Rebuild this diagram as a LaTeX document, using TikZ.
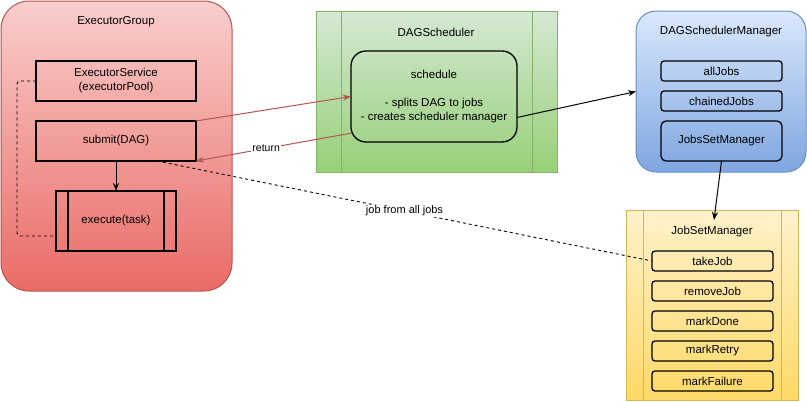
\documentclass[tikz,border=0pt]{standalone}
\usepackage{fontspec}
\setmainfont{Liberation Sans}
\usetikzlibrary{arrows.meta,calc}
\definecolor{redT}{HTML}{F8CECC}
\definecolor{redB}{HTML}{EA6B66}
\definecolor{redS}{HTML}{B85450}
\definecolor{grnT}{HTML}{D5E8D4}
\definecolor{grnB}{HTML}{97D077}
\definecolor{grnS}{HTML}{82B366}
\definecolor{bluT}{HTML}{DAE8FC}
\definecolor{bluB}{HTML}{7EA6E0}
\definecolor{bluS}{HTML}{6C8EBF}
\definecolor{yelT}{HTML}{FFF2CC}
\definecolor{yelB}{HTML}{FFD966}
\definecolor{yelS}{HTML}{D6B656}
\tikzset{
  every node/.style={font=\fontsize{11.5}{14}\selectfont, inner sep=0pt, outer sep=0pt},
  container/.style={draw, line width=1pt},
  innerbox/.style={draw=black, line width=1.3pt, align=center},
  item/.style={innerbox, rounded corners=3pt, minimum width=121pt, minimum height=20pt},
  arr/.style={-{Stealth[length=8pt,width=6pt]}, line width=1pt},
  redarr/.style={arr, draw=redS},
  lbl/.style={fill=white, inner sep=1pt}
}
\begin{document}
\begin{tikzpicture}[x=1pt,y=-1pt]
\useasboundingbox (0,0) rectangle (807,402);
% ExecutorGroup
\node[container, draw=redS, top color=redT, bottom color=redB, rounded corners=28pt,
  minimum width=231pt, minimum height=290pt] (EG) at (116.5,146) {};
\node (EGt) at (116,22) {ExecutorGroup};
\node[innerbox, minimum width=160pt, minimum height=40pt] (ES) at (116,81)
  {ExecutorService\\(executorPool)};
\node[innerbox, minimum width=160pt, minimum height=40pt] (SUB) at (116,141) {submit(DAG)};
\node[innerbox, minimum width=120pt, minimum height=60pt] (EX) at (116,221) {execute(task)};
\draw[line width=1.3pt] ($(EX.north west)+(12,0)$) -- ($(EX.south west)+(12,0)$);
\draw[line width=1.3pt] ($(EX.north east)+(-12,0)$) -- ($(EX.south east)+(-12,0)$);
% DAGScheduler
\node[container, draw=grnS, top color=grnT, bottom color=grnB,
  minimum width=241pt, minimum height=161pt] (DS) at (436.5,91.5) {};
\draw[grnS, line width=1pt] ($(DS.north west)+(25,0)$) -- ($(DS.south west)+(25,0)$);
\draw[grnS, line width=1pt] ($(DS.north east)+(-25,0)$) -- ($(DS.south east)+(-25,0)$);
\node (DSt) at (436,32) {DAGScheduler};
\node[innerbox, rounded corners=15pt, minimum width=166pt, minimum height=91pt] (SCH) at (434,96.5)
  {schedule\\[14pt]- splits DAG to jobs\\- creates scheduler manager};
% DAGSchedulerManager
\node[container, draw=bluS, top color=bluT, bottom color=bluB, rounded corners=20pt,
  minimum width=170pt, minimum height=161pt] (DSM) at (721,91.5) {};
\node (DSMt) at (721,32) {DAGSchedulerManager};
\node[item] (AJ) at (721.5,71) {allJobs};
\node[item] (CJ) at (721.5,101) {chainedJobs};
\node[innerbox, rounded corners=5pt, minimum width=121pt, minimum height=40pt] (JSM) at (721.5,141) {JobsSetManager};
% JobSetManager
\node[container, draw=yelS, top color=yelT, bottom color=yelB,
  minimum width=172pt, minimum height=190pt] (JBM) at (712,305) {};
\draw[yelS, line width=1pt] ($(JBM.north west)+(17,0)$) -- ($(JBM.south west)+(17,0)$);
\draw[yelS, line width=1pt] ($(JBM.north east)+(-17,0)$) -- ($(JBM.south east)+(-17,0)$);
\node (JBMt) at (712,232) {JobSetManager};
\node[item] (TJ) at (712.5,261) {takeJob};
\node[item] (RJ) at (712.5,291) {removeJob};
\node[item] (MD) at (712.5,321) {markDone};
\node[item] (MR) at (712.5,351) {markRetry};
\node[item] (MF) at (712.5,381) {markFailure};
% connectors
\draw[arr] (SUB.south) -- (EX.north);
\draw[dashed, line width=0.9pt, rounded corners=3pt] (ES.west) -- ++(-19,0) |- ($(EX.west)+(0,15)$);
\draw[redarr] (SUB.north east) -- (SCH.west);
\draw[redarr] ($(SCH.south west)+(1,-9)$) -- node[lbl, pos=0.55, font=\fontsize{10.5}{12}\selectfont] {return} (SUB.south east);
\draw[arr] ($(SCH.east)+(0,21)$) -- (DSM.west);
\draw[arr] (JSM.south) -- ($(JBM.north)+(2,10)$);
\draw[dashed, line width=0.9pt] ($(SUB.south east)+(-39,0)$) -- node[lbl, pos=0.5, font=\fontsize{11}{13}\selectfont] {job from all jobs} (TJ.west);
\end{tikzpicture}
\end{document}
